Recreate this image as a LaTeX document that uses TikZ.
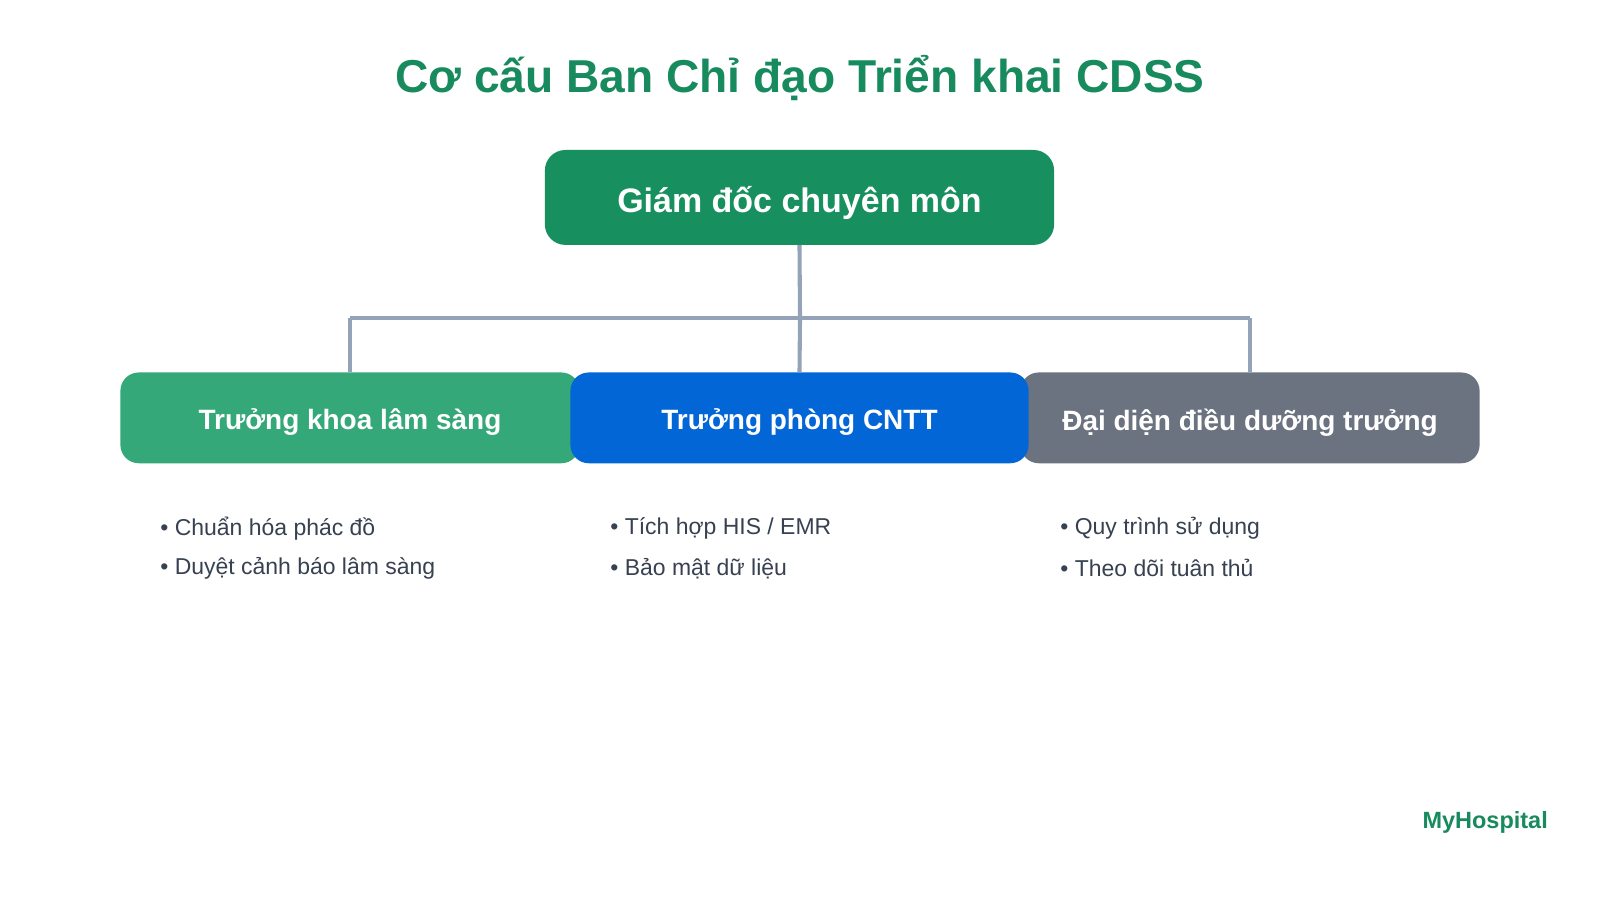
\documentclass[tikz,border=0pt]{standalone}
\usepackage{fontspec}
\setmainfont{Liberation Sans}
\definecolor{tgreen}{HTML}{178A5E}
\definecolor{topg}{HTML}{178F5F}
\definecolor{lg}{HTML}{35A87A}
\definecolor{bl}{HTML}{0366D6}
\definecolor{gr}{HTML}{6B7280}
\definecolor{ln}{HTML}{94A3B8}
\definecolor{tx}{HTML}{374151}
\begin{document}
\begin{tikzpicture}[x=1pt,y=-1pt,
 box/.style={rounded corners=18pt,inner sep=0pt,text=white,font=\bfseries\fontsize{27.4}{30}\selectfont,text depth=0pt},
 conn/.style={ln,line width=4pt},
 item/.style={anchor=west,text=tx,font=\fontsize{22.5}{26}\selectfont,inner sep=0pt}]
\useasboundingbox[fill=white] (0,0) rectangle (1568,882);
\node[text=tgreen,font=\bfseries\fontsize{45.2}{52}\selectfont] (title) at (784,76) {Cơ cấu Ban Chỉ đạo Triển khai CDSS};
\coordinate (j) at (784,312);
\coordinate (jl) at (343,312);
\coordinate (jr) at (1225,312);
\node[box,fill=topg,minimum width=499pt,minimum height=93pt,rounded corners=20pt,font=\bfseries\fontsize{33.3}{36}\selectfont] (top) at (783.5,193.5) {\raisebox{-3pt}{Giám đốc chuyên môn}};
\draw[conn] (top.south) -- (j);
\draw[conn] (jl) -- (jr);
\node[box,fill=lg,minimum width=450pt,minimum height=89pt] (a) at (343,409.5) {\raisebox{-3pt}{Trưởng khoa lâm sàng}};
\node[box,fill=gr,minimum width=450pt,minimum height=89pt] (c) at (1225,409.5) {\raisebox{-3pt}{Đại diện điều dưỡng trưởng}};
\node[box,fill=bl,minimum width=449pt,minimum height=89pt] (b) at (783.5,409.5) {\raisebox{-3pt}{Trưởng phòng CNTT}};
\draw[conn] (jl) -- (a.north);
\draw[conn] (j) -- (b.north);
\draw[conn] (jr) -- (c.north);
\node[item] (a1) at (157,518) {• Chuẩn hóa phác đồ};
\node[item] (a2) at (157,557) {• Duyệt cảnh báo lâm sàng};
\node[item] (b1) at (598,518) {• Tích hợp HIS / EMR};
\node[item] (b2) at (598,557) {• Bảo mật dữ liệu};
\node[item] (c1) at (1039,518) {• Quy trình sử dụng};
\node[item] (c2) at (1039,557) {• Theo dõi tuân thủ};
\node[anchor=east,inner sep=0pt,text=tgreen,font=\bfseries\fontsize{23}{26}\selectfont] (logo) at (1517,806) {MyHospital};
\end{tikzpicture}
\end{document}
